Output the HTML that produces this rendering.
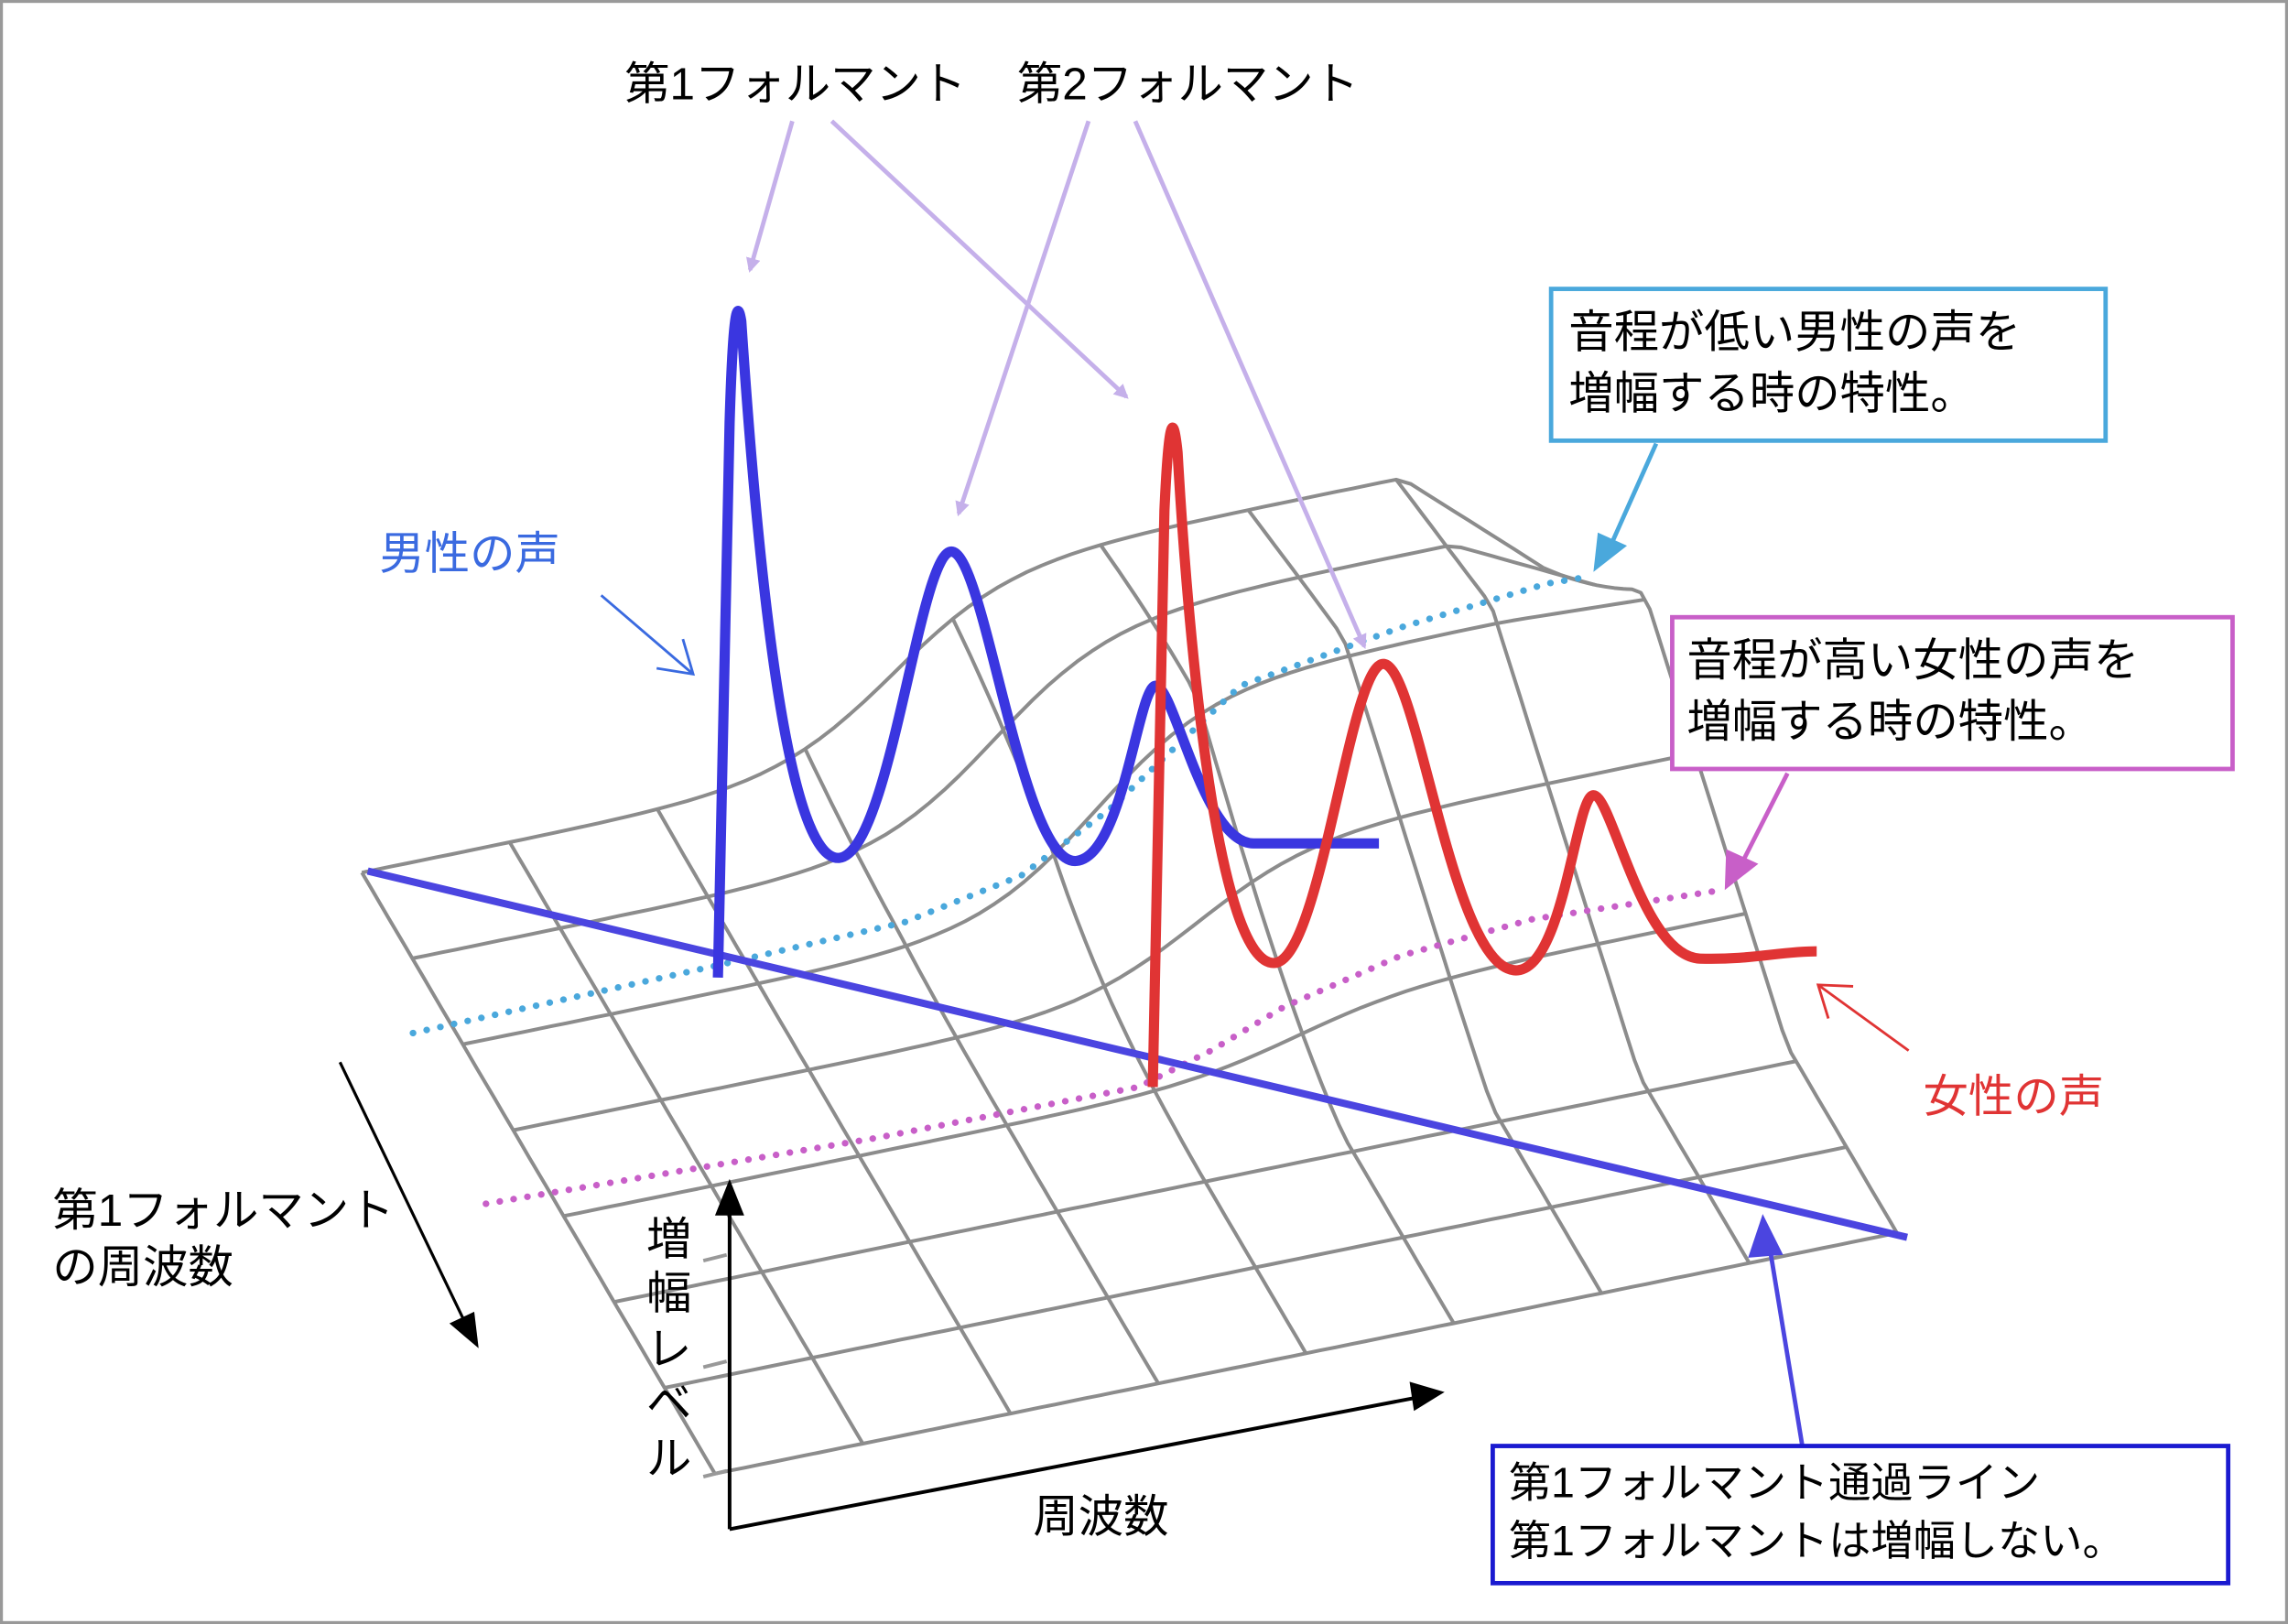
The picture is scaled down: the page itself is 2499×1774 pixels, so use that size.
<!DOCTYPE html>
<html><head><meta charset="utf-8"><style>
html,body{margin:0;padding:0;background:#fff;}
svg{display:block;}
text{font-family:"Liberation Sans","Noto Sans CJK JP",sans-serif;}
</style></head><body>
<svg id="s" width="2499" height="1774" viewBox="0 0 1568 1113" preserveAspectRatio="none" xmlns="http://www.w3.org/2000/svg">
<defs>
<marker id="mL" markerWidth="10" markerHeight="10" refX="8" refY="5" orient="auto" markerUnits="userSpaceOnUse" viewBox="0 0 10 10"><path d="M0,0 L10,5 L0,10 z" fill="#c5b0ea"/></marker>
</defs>
<rect x="1" y="1" width="1566" height="1111" fill="#fff" stroke="#999" stroke-width="2"/>
<g id="mesh" fill="none" stroke="#8c8c8c" stroke-width="2.5" stroke-linejoin="round"></g>

<polyline points="283,708 490,662 620,632 700,600 760,555 850,470 960,430 1060,400 1090,395" fill="none" stroke="#4aa8dc" stroke-width="4.5" stroke-linecap="round" stroke-dasharray="0.1 9.5"/>
<polyline points="333,825 600,780 780,745 830,720 880,690 960,655 1050,630 1180,610" fill="none" stroke="#c85fc8" stroke-width="4.5" stroke-linecap="round" stroke-dasharray="0.1 9.5"/>

<line x1="252" y1="597" x2="1307" y2="848" stroke="#4b45e0" stroke-width="5"/>

<path d="M492,670 L500,290 Q503,190 508,220 C520,400 540,590 575,588 C610,585 630,378 652,378 C675,378 700,595 738,590 C770,586 780,470 792,470 C805,470 825,580 860,578 L945,578" fill="none" stroke="#3a36e0" stroke-width="7" stroke-linejoin="round"/>
<path d="M790,745 L798,350 Q802,262 807,310 C815,450 835,660 873,660 C905,660 925,455 948,455 C972,455 995,668 1040,665 C1072,662 1080,545 1092,545 C1105,545 1125,655 1165,657 C1200,658 1220,652 1245,652" fill="none" stroke="#e03434" stroke-width="7" stroke-linejoin="round"/>

<g stroke="#c5b0ea" stroke-width="3" fill="none" marker-end="url(#mL)">
<line x1="543" y1="83" x2="514" y2="185"/>
<line x1="570" y1="83" x2="772" y2="272"/>
<line x1="746" y1="83" x2="657" y2="352"/>
<line x1="778" y1="83" x2="935" y2="443"/>
</g>
<line x1="1135" y1="304" x2="1102" y2="378" stroke="#4aa8dc" stroke-width="3"/>
<path d="M1092,392 L1095,365 L1115,374 z" fill="#4aa8dc"/>
<line x1="1225" y1="530" x2="1192" y2="595" stroke="#c85fc8" stroke-width="3"/>
<path d="M1182,610 L1183,582 L1205,592 z" fill="#c85fc8"/>
<line x1="1235" y1="990" x2="1212" y2="850" stroke="#4b45e0" stroke-width="3"/>
<path d="M1208,832 L1198,862 L1222,860 z" fill="#4b45e0"/>
<line x1="412" y1="408" x2="475" y2="462" stroke="#3a6ae0" stroke-width="1.8"/>
<polyline points="450,458 475,462 468,438" fill="none" stroke="#3a6ae0" stroke-width="1.8"/>
<line x1="1308" y1="720" x2="1246" y2="675" stroke="#e03434" stroke-width="1.8"/>
<polyline points="1253,698 1246,675 1270,676" fill="none" stroke="#e03434" stroke-width="1.8"/>

<line x1="500" y1="1048" x2="500" y2="830" stroke="#000" stroke-width="2.5"/>
<path d="M500,808 L490,833 L510,833 z" fill="#000"/>
<line x1="500" y1="1048" x2="970" y2="958" stroke="#000" stroke-width="2.5"/>
<path d="M990,954 L966,947 L969,967 z" fill="#000"/>
<line x1="233" y1="728" x2="318" y2="905" stroke="#000" stroke-width="2"/>
<path d="M328,924 L308,907 L325,899 z" fill="#000"/>
<g stroke="#999" stroke-width="2.5"><line x1="482" y1="864" x2="498" y2="860"/><line x1="482" y1="937" x2="498" y2="933"/><line x1="482" y1="1012" x2="498" y2="1008"/></g>

<g font-size="31" fill="#000">
<text x="428" y="68">第1フォルマント</text>
<text x="697" y="68">第2フォルマント</text>
<text x="36" y="840">第1フォルマント</text>
<text x="36" y="879">の周波数</text>
<text x="708" y="1050">周波数</text>
<text x="443" y="860">増</text><text x="443" y="897">幅</text><text x="443" y="935">レ</text><text x="443" y="972">ベ</text><text x="443" y="1010">ル</text>
</g>
<text x="260" y="390" font-size="31" fill="#3a6ae0">男性の声</text>
<text x="1318" y="762" font-size="31" fill="#e03434">女性の声</text>

<rect x="1063" y="198" width="380" height="104" fill="#fff" stroke="#4aa8dc" stroke-width="3"/>
<text x="1075" y="238" font-size="31">音程が低い男性の声を</text>
<text x="1075" y="280" font-size="31">増幅する時の特性。</text>
<rect x="1146" y="423" width="384" height="104" fill="#fff" stroke="#c85fc8" stroke-width="3"/>
<text x="1156" y="463" font-size="31">音程が高い女性の声を</text>
<text x="1156" y="505" font-size="31">増幅する時の特性。</text>
<rect x="1023" y="991" width="504" height="94" fill="#fff" stroke="#1a1ad0" stroke-width="3"/>
<text x="1034" y="1026" font-size="29">第1フォルマント通過ライン</text>
<text x="1034" y="1066" font-size="29">第1フォルマントは増幅しない。</text>
</svg>
<script>
(function(){
var A=[248,598],B=[490,1010],D=[1058,433];
var N=8,M=7;
function P(u,v){
 var x=A[0]+(D[0]-A[0])*u+(B[0]-A[0])*v;
 var y=A[1]+(D[1]-A[1])*u+(B[1]-A[1])*v;
 var H=v<0.27?(125+25*(v/0.27)):Math.max(0,357*(0.69-v));
 var c=0.45+0.3*v;
 var s=1/(1+Math.exp(-(u-c)/0.05));
 var drop=Math.max(0,(u-0.88)/0.12)*0.65*Math.max(0,1-v/0.3);
 return [x,y-H*s*(1-drop)];
}
var g=document.getElementById('mesh'),out='';
for(var i=0;i<=N;i++){var d='';for(var k=0;k<=40;k++){var p=P(i/N,k/40);d+=(k?'L':'M')+p[0].toFixed(1)+','+p[1].toFixed(1);}out+='<path d="'+d+'"/>';}
for(var j=0;j<=M;j++){var d='';for(var k=0;k<=80;k++){var p=P(k/80,j/M);d+=(k?'L':'M')+p[0].toFixed(1)+','+p[1].toFixed(1);}out+='<path d="'+d+'"/>';}
g.innerHTML=out;
})();
</script>
</body></html>
